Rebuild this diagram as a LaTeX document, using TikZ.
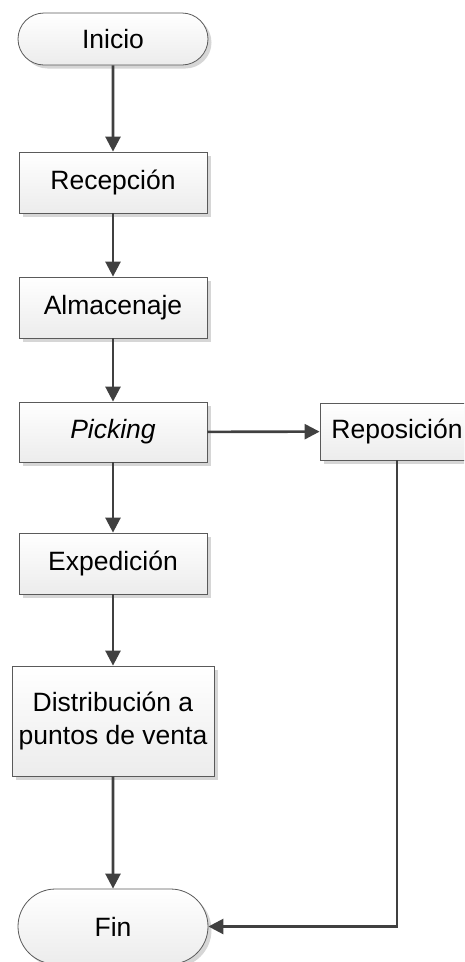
\documentclass[tikz,border=0pt]{standalone}
\usepackage{fontspec}
\setmainfont{Liberation Sans}
\usetikzlibrary{arrows.meta,shapes.misc,shadows}
\definecolor{edgegray}{HTML}{404040}
\definecolor{framegray}{HTML}{5A5A5A}
\definecolor{fillbottom}{HTML}{ECECEC}
\definecolor{shadowgray}{HTML}{D6D6D6}
\begin{document}
\begin{tikzpicture}[x=1pt,y=-1pt,
  font=\fontsize{26.5}{33}\selectfont,
  boxbase/.style={draw=framegray, line width=0.8pt, top color=white, bottom color=fillbottom,
    drop shadow={shadow xshift=3.5pt, shadow yshift=-3.5pt, fill=shadowgray, opacity=1},
    inner sep=0pt, align=center, text=black},
  procbox/.style={boxbase, rectangle, minimum width=188pt, minimum height=61pt},
  termbox/.style={boxbase, rounded rectangle, minimum width=190pt},
  flow/.style={draw=edgegray, line width=2.6pt, -{Triangle[length=15pt,width=15pt]}}
]
\useasboundingbox (0,0) rectangle (464,962);
\clip (0,0) rectangle (464,962);

\node[termbox, minimum height=52pt] (inicio) at (113,39) {Inicio};
\node[procbox] (recep) at (113,182.5) {Recepción};
\node[procbox] (almac) at (113,307.5) {Almacenaje};
\node[procbox, minimum height=60pt] (pick) at (113,432) {\itshape Picking};
\node[procbox, minimum width=154pt, minimum height=57pt] (repo) at (397,431.5) {Reposición};
\node[procbox] (exped) at (113,563.5) {Expedición};
\node[procbox, minimum width=202pt, minimum height=110pt] (distr) at (113,721)
  {Distribución a\\puntos de venta};
\node[termbox, minimum height=75pt] (fin) at (113,926.5) {Fin};

\draw[flow] (inicio) -- (recep);
\draw[flow] (recep) -- (almac);
\draw[flow] (almac) -- (pick);
\draw[flow] (pick) -- (repo);
\draw[flow] (pick) -- (exped);
\draw[flow] (exped) -- (distr);
\draw[flow] (distr) -- (fin);
\draw[flow] (repo.south) |- (fin.east);
\end{tikzpicture}
\end{document}
